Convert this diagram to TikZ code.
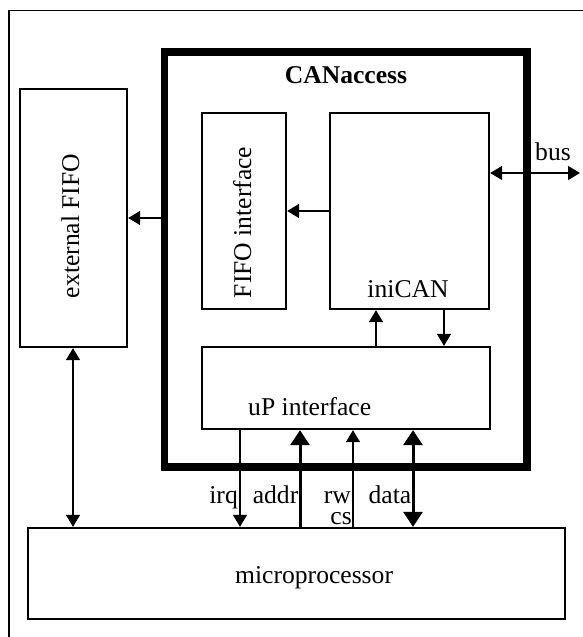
\documentclass[tikz,border=0pt]{standalone}
\usepackage{fontspec}
\setmainfont{Liberation Serif}
\usetikzlibrary{arrows.meta}
\tikzset{
  box/.style={draw, line width=2.3pt, inner sep=0pt, rectangle},
  bigbox/.style={draw, line width=7.5pt, inner sep=0pt, rectangle},
  txt/.style={inner sep=0pt, font=\fontsize{25.6}{30}\selectfont},
  thinarr/.style={line width=1.2pt, -{Triangle[length=12pt,width=14pt]}},
  thinarrb/.style={line width=1.2pt, {Triangle[length=12pt,width=14pt]}-{Triangle[length=12pt,width=14pt]}},
  thickarr/.style={line width=3pt, -{Triangle[length=15pt,width=19pt]}},
  thickarrb/.style={line width=3pt, {Triangle[length=15pt,width=19pt]}-{Triangle[length=15pt,width=19pt]}},
}
\begin{document}
\begin{tikzpicture}[x=1pt,y=-1pt]
\useasboundingbox (0,0) rectangle (583,637);
\fill[white] (0,0) rectangle (583,637);
% outer frame (clipped at right and bottom)
\draw[line width=1.3pt] (583,10.5) -- (9,10.5) -- (9,637);

% boxes
\node[box, minimum width=107pt, minimum height=258pt] (extfifo) at (73.5,218) {};
\node[bigbox, minimum width=362.5pt, minimum height=415pt] (canaccess) at (345.75,259.5) {};
\node[box, minimum width=84pt, minimum height=196pt] (fifoif) at (244,211) {};
\node[box, minimum width=159pt, minimum height=196pt] (inican) at (409.5,211) {};
\node[box, minimum width=288pt, minimum height=82pt] (upif) at (346,388) {};
\node[box, minimum width=537pt, minimum height=91pt] (micro) at (296.5,573.5) {};

% texts
\node[txt, font=\fontsize{25.6}{30}\selectfont\bfseries, anchor=base] (cantitle) at (346,83) {CANaccess};
\node[txt, anchor=base, rotate=90] (extfifotxt) at (79,226) {external FIFO};
\node[txt, anchor=base, rotate=90] (fifoiftxt) at (251,222.5) {FIFO interface};
\node[txt, anchor=base] (inicantxt) at (408,297) {iniCAN};
\node[txt, anchor=base west] (upiftxt) at (248,415) {uP interface};
\node[txt, anchor=base west] (microtxt) at (235,583) {microprocessor};
\node[txt, anchor=base] (buslbl) at (553,160) {bus};
\node[txt, anchor=base east] (irqlbl) at (238,503) {irq};
\node[txt, anchor=base east] (addrlbl) at (298.5,503) {addr};
\node[txt, anchor=base east] (rwlbl) at (351,503) {rw};
\node[txt, anchor=base east] (cslbl) at (352,524) {cs};
\node[txt, anchor=base east] (datalbl) at (411.5,503) {data};

% x positions / free ends
\coordinate (busend) at (580,173);
\coordinate (upx) at (376,0);
\coordinate (downx) at (444,0);
\coordinate (fifox) at (73,0);
\coordinate (irqx) at (240,0);
\coordinate (addrx) at (300,0);
\coordinate (rwx) at (353,0);
\coordinate (datax) at (413,0);

% connectors
\draw[thinarr] (canaccess.west |- extfifo.east) -- (extfifo.east);
\draw[thinarr] (inican.west) -- (fifoif.east);
\draw[thinarrb] (inican.east |- busend) -- (busend);
\draw[thinarr] (upif.north -| upx) -- (inican.south -| upx);
\draw[thinarr] (inican.south -| downx) -- (upif.north -| downx);
\draw[thinarrb] (extfifo.south -| fifox) -- (micro.north -| fifox);
\draw[thinarr] (upif.south -| irqx) -- (micro.north -| irqx);
\draw[thickarr] (micro.north -| addrx) -- (upif.south -| addrx);
\draw[thinarr] (micro.north -| rwx) -- (upif.south -| rwx);
\draw[thickarrb] (micro.north -| datax) -- (upif.south -| datax);
\end{tikzpicture}
\end{document}
